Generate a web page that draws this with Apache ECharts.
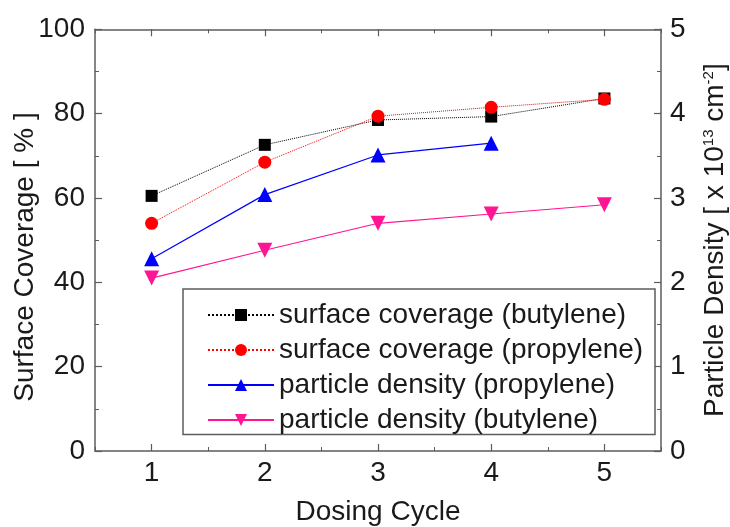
<!DOCTYPE html>
<html lang="en">
  <head>
    <meta charset="UTF-8" />
    <title>Dosing Cycle</title>
    <script src="https://cdn.jsdelivr.net/npm/echarts@6/dist/echarts.min.js"></script>
    <style>
      html, body { margin: 0; padding: 0; background: #fff; }
    </style>
  </head>
  <body>
    <div id="main" style="width: 730px; height: 527px"></div>
    <script type="text/javascript">
      // values
      const cycles = [1, 2, 3, 4, 5];
      const coverageButylene = [60.5, 72.6, 78.5, 79.3, 83.6];
      const coveragePropylene = [54.0, 68.5, 79.4, 81.5, 83.4];
      const densityPropylene = [2.28, 3.04, 3.51, 3.65];
      const densityButylene = [2.05, 2.38, 2.70, 2.81, 2.92];
      const xTicks = [1, 2, 3, 4, 5];

      const font = "'Liberation Sans', Arial, sans-serif";
      const axisColor = "#5c5c5c";
      const textColor = "#1a1a1a";
      const fs = 28;

      function pairs(ys) {
        return ys.map((y, i) => [cycles[i], y]);
      }

      function majorX(pos, withLabel) {
        return {
          type: "value", position: pos, min: 0.5, max: 5.5, interval: 0.5,
          axisLine: { show: true, onZero: false, lineStyle: { color: axisColor, width: 1.5 } },
          axisTick: { show: true, inside: true, length: 7, customValues: xTicks,
            lineStyle: { color: axisColor, width: 1.2 } },
          axisLabel: { show: withLabel, customValues: xTicks, fontSize: fs, fontFamily: font,
            color: textColor, margin: 8 },
          splitLine: { show: false },
        };
      }
      function minorX(pos) {
        return {
          type: "value", position: pos, min: 0.5, max: 5.5, interval: 0.5,
          axisLine: { show: false, onZero: false },
          axisTick: { show: true, inside: true, length: 4, lineStyle: { color: axisColor, width: 1 } },
          axisLabel: { show: false }, splitLine: { show: false },
        };
      }
      function minorY(pos, max, step) {
        return {
          type: "value", position: pos, min: 0, max: max, interval: step,
          axisLine: { show: false, onZero: false },
          axisTick: { show: true, inside: true, length: 4, lineStyle: { color: axisColor, width: 1 } },
          axisLabel: { show: false }, splitLine: { show: false },
        };
      }

      const xBottom = majorX("bottom", true);
      xBottom.name = "Dosing Cycle";
      xBottom.nameLocation = "middle";
      xBottom.nameGap = 47;
      xBottom.nameTextStyle = { fontSize: fs, fontFamily: font, color: textColor };

      let options = {
        backgroundColor: "#fff",
        animation: false,
        grid: { left: 95, right: 69, top: 29.3, bottom: 76, containLabel: false, outerBoundsMode: "none" },
        xAxis: [xBottom, minorX("bottom"), majorX("top", false), minorX("top")],
        yAxis: [
          {
            type: "value", position: "left", min: 0, max: 100, interval: 20,
            axisLine: { show: true, onZero: false, lineStyle: { color: axisColor, width: 1.5 } },
            axisTick: { show: true, inside: true, length: 7, lineStyle: { color: axisColor, width: 1.2 } },
            axisLabel: { fontSize: fs, fontFamily: font, color: textColor, margin: 10 },
            splitLine: { show: false },
          },
          minorY("left", 100, 10),
          {
            type: "value", position: "right", min: 0, max: 5, interval: 1,
            name: "{t|Particle Density [ x 10}{s|13}{t| cm}{s|-2}{t|]}",
            nameLocation: "middle", nameRotate: 90, nameGap: 40,
            nameTextStyle: {
              rich: {
                t: { fontSize: fs, fontFamily: font, color: textColor },
                s: { fontSize: 15, fontFamily: font, color: textColor, verticalAlign: "top" },
              },
            },
            axisLine: { show: true, onZero: false, lineStyle: { color: axisColor, width: 1.5 } },
            axisTick: { show: true, inside: true, length: 7, lineStyle: { color: axisColor, width: 1.2 } },
            axisLabel: { fontSize: fs, fontFamily: font, color: textColor, margin: 9 },
            splitLine: { show: false },
          },
          minorY("right", 5, 0.5),
        ],
        legend: {
          orient: "vertical",
          left: 207,
          top: 301,
          itemWidth: 66,
          itemHeight: 15,
          itemGap: 7,
          padding: 0,
          textStyle: { fontSize: fs, lineHeight: 28, fontFamily: font, color: textColor },
          data: [
            "surface coverage (butylene)",
            "surface coverage (propylene)",
            "particle density (propylene)",
            "particle density (butylene)",
          ],
        },
        graphic: [
          {
            type: "rect", z: 3, silent: true,
            shape: { x: 183, y: 289, width: 472, height: 145.5 },
            style: { fill: "#fff", stroke: axisColor, lineWidth: 1.5 },
          },
          {
            type: "text", z: 5, silent: true,
            x: 25, y: 257, rotation: Math.PI / 2,
            style: {
              text: "Surface Coverage [ % ]", fill: textColor,
              font: fs + "px " + font, align: "center", verticalAlign: "middle",
            },
          },
        ],
        series: [
          {
            name: "surface coverage (butylene)", type: "line", xAxisIndex: 0, yAxisIndex: 0,
            data: pairs(coverageButylene), symbol: "rect", symbolSize: 12,
            itemStyle: { color: "#000" },
            lineStyle: { color: "#000", width: 1, type: "dotted" },
          },
          {
            name: "surface coverage (propylene)", type: "line", xAxisIndex: 0, yAxisIndex: 0,
            data: pairs(coveragePropylene), symbol: "circle", symbolSize: 13,
            itemStyle: { color: "#ff0000" },
            lineStyle: { color: "#ff0000", width: 1, type: "dotted" },
          },
          {
            name: "particle density (propylene)", type: "line", xAxisIndex: 0, yAxisIndex: 2,
            data: pairs(densityPropylene), symbol: "triangle", symbolSize: 15,
            itemStyle: { color: "#0000ff" },
            lineStyle: { color: "#0000ff", width: 1.2 },
          },
          {
            name: "particle density (butylene)", type: "line", xAxisIndex: 0, yAxisIndex: 2,
            data: pairs(densityButylene), symbol: "triangle", symbolRotate: 180, symbolSize: 15,
            itemStyle: { color: "#ff1493" },
            lineStyle: { color: "#ff1493", width: 1.2 },
          },
        ],
      };

      let myChart = echarts.init(document.getElementById("main"));
      myChart.setOption(options);
    </script>
  </body>
</html>
